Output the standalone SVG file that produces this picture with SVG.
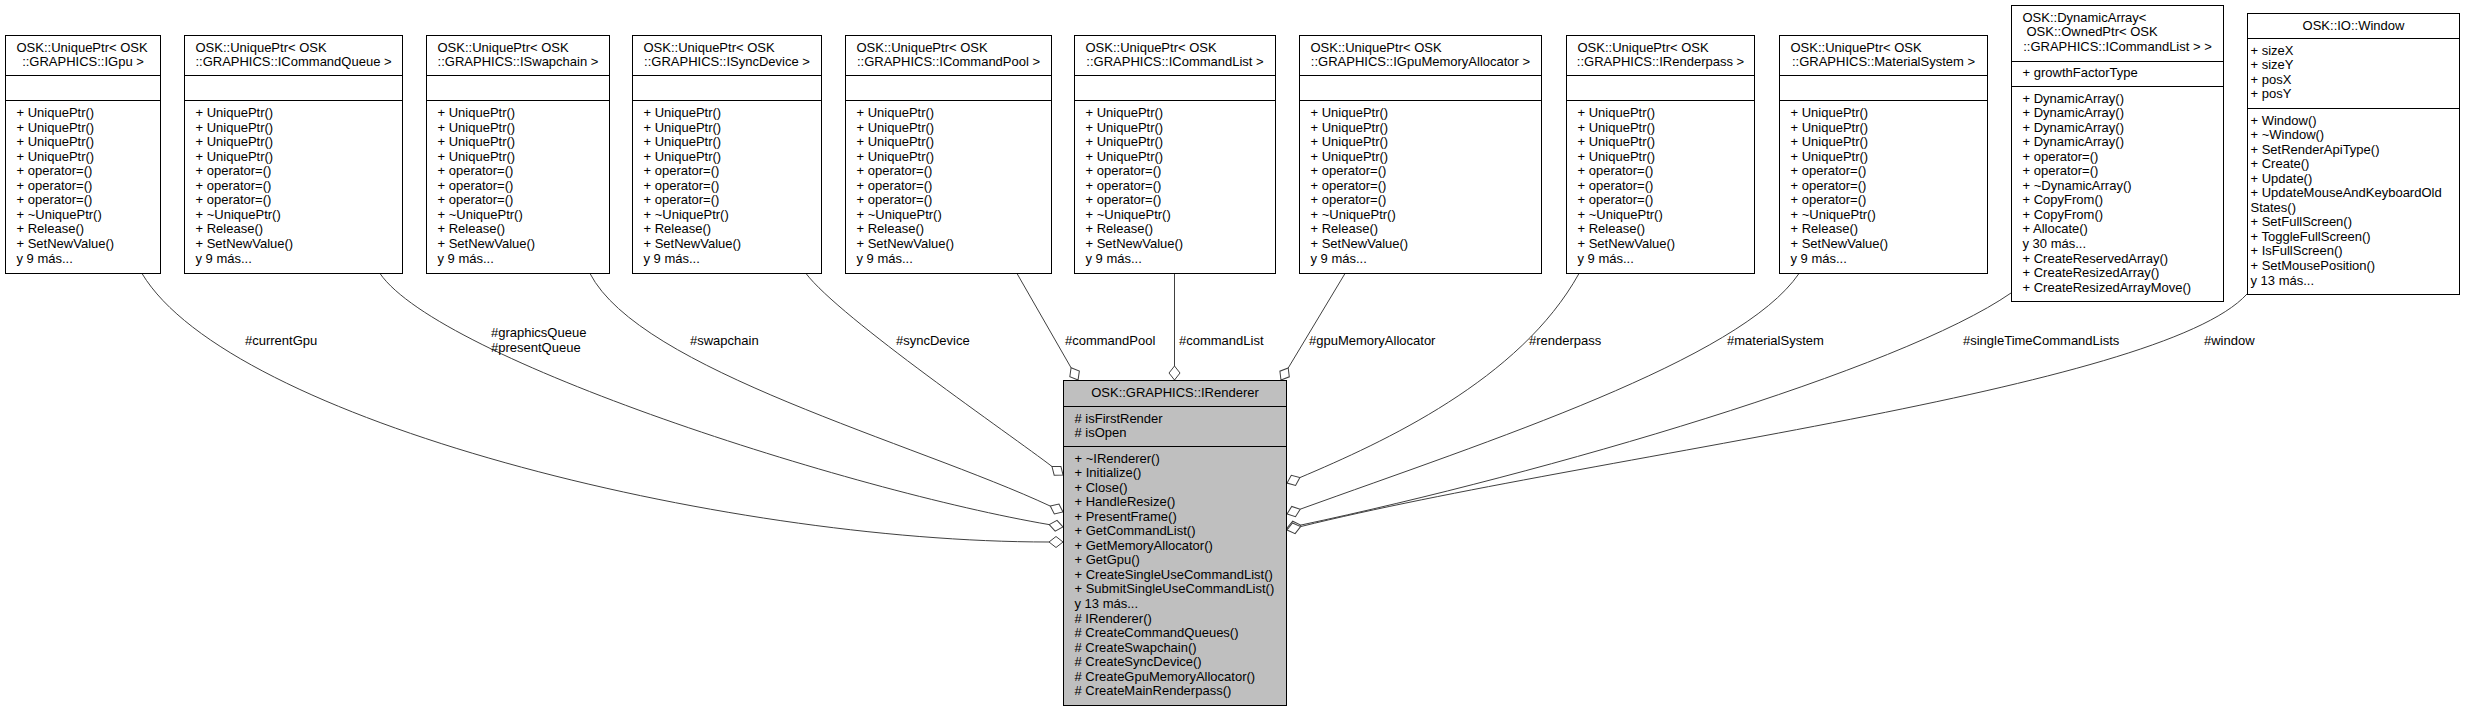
<svg xmlns="http://www.w3.org/2000/svg" width="2465" height="712" viewBox="0 0 2465 712">
<style>
text{font-family:"Liberation Sans",Arial,Helvetica,sans-serif;font-size:13px;fill:#000}
.box{fill:#fff;stroke:#000;stroke-width:1}
.cur{fill:#bfbfbf;stroke:#000;stroke-width:1}
.sep{fill:none;stroke:#000;stroke-width:1}
.edge{fill:none;stroke:#404040;stroke-width:1;marker-end:url(#odiamond)}
.mid{text-anchor:middle}
</style>
<defs>
<marker id="odiamond" markerUnits="userSpaceOnUse" markerWidth="16" markerHeight="14" refX="1" refY="7" orient="auto" viewBox="0 0 16 14" overflow="visible">
<path d="M1,7 L8,1.5 L15,7 L8,12.5 Z" fill="#fff" stroke="#404040" stroke-width="1"/>
</marker>
</defs>
<rect width="2465" height="712" fill="#fff"/>

<g id="connectors">
<path class="edge" d="M142,273.5 C230,420 720,542 1049,542"/>
<path class="edge" d="M380,273.5 C440,360 852,491 1049.2,524.6"/>
<path class="edge" d="M590,273.5 C640,370 914.4,442.6 1050.3,506.1"/>
<path class="edge" d="M806,273.5 C840,318 1012.5,436 1052,466.5"/>
<path class="edge" d="M1017,273.5 L1071.1,367.8"/>
<path class="edge" d="M1174.5,273.5 L1174.5,366"/>
<path class="edge" d="M1345,273.5 L1288.2,368"/>
<path class="edge" d="M1579,273.5 C1520,380 1382.7,442.5 1299.9,477.6"/>
<path class="edge" d="M1799,273.5 C1740,360 1488.2,441.2 1300.2,509.2"/>
<path class="edge" d="M2011,293 C1900,370 1545,473.1 1300.7,525.1"/>
<path class="edge" d="M2247,294 C2160,390 1591.6,454.6 1300.6,526.6"/>
<text x="245" y="345">#currentGpu</text>
<text x="491" y="337">#graphicsQueue</text>
<text x="491" y="352">#presentQueue</text>
<text x="690" y="345">#swapchain</text>
<text x="896" y="345">#syncDevice</text>
<text x="1065" y="345">#commandPool</text>
<text x="1179" y="345">#commandList</text>
<text x="1309" y="345">#gpuMemoryAllocator</text>
<text x="1529" y="345">#renderpass</text>
<text x="1727" y="345">#materialSystem</text>
<text x="1963" y="345">#singleTimeCommandLists</text>
<text x="2204" y="345">#window</text>
</g>

<g id="n1">
<rect class="box" x="5.5" y="35.5" width="155" height="238"/>
<path class="sep" d="M5.5,75.5H160.5M5.5,100.5H160.5"/>
<text x="16.5" y="51.5">OSK::UniquePtr&lt; OSK</text>
<text class="mid" x="83" y="66">::GRAPHICS::IGpu &gt;</text>
<text y="117"><tspan x="16.5">+ UniquePtr()</tspan><tspan x="16.5" dy="14.55">+ UniquePtr()</tspan><tspan x="16.5" dy="14.55">+ UniquePtr()</tspan><tspan x="16.5" dy="14.55">+ UniquePtr()</tspan><tspan x="16.5" dy="14.55">+ operator=()</tspan><tspan x="16.5" dy="14.55">+ operator=()</tspan><tspan x="16.5" dy="14.55">+ operator=()</tspan><tspan x="16.5" dy="14.55">+ ~UniquePtr()</tspan><tspan x="16.5" dy="14.55">+ Release()</tspan><tspan x="16.5" dy="14.55">+ SetNewValue()</tspan><tspan x="16.5" dy="14.55">y 9 más...</tspan></text>
</g>

<g id="n2">
<rect class="box" x="184.5" y="35.5" width="218" height="238"/>
<path class="sep" d="M184.5,75.5H402.5M184.5,100.5H402.5"/>
<text x="195.5" y="51.5">OSK::UniquePtr&lt; OSK</text>
<text class="mid" x="293.5" y="66">::GRAPHICS::ICommandQueue &gt;</text>
<text y="117"><tspan x="195.5">+ UniquePtr()</tspan><tspan x="195.5" dy="14.55">+ UniquePtr()</tspan><tspan x="195.5" dy="14.55">+ UniquePtr()</tspan><tspan x="195.5" dy="14.55">+ UniquePtr()</tspan><tspan x="195.5" dy="14.55">+ operator=()</tspan><tspan x="195.5" dy="14.55">+ operator=()</tspan><tspan x="195.5" dy="14.55">+ operator=()</tspan><tspan x="195.5" dy="14.55">+ ~UniquePtr()</tspan><tspan x="195.5" dy="14.55">+ Release()</tspan><tspan x="195.5" dy="14.55">+ SetNewValue()</tspan><tspan x="195.5" dy="14.55">y 9 más...</tspan></text>
</g>

<g id="n3">
<rect class="box" x="426.5" y="35.5" width="183" height="238"/>
<path class="sep" d="M426.5,75.5H609.5M426.5,100.5H609.5"/>
<text x="437.5" y="51.5">OSK::UniquePtr&lt; OSK</text>
<text class="mid" x="518" y="66">::GRAPHICS::ISwapchain &gt;</text>
<text y="117"><tspan x="437.5">+ UniquePtr()</tspan><tspan x="437.5" dy="14.55">+ UniquePtr()</tspan><tspan x="437.5" dy="14.55">+ UniquePtr()</tspan><tspan x="437.5" dy="14.55">+ UniquePtr()</tspan><tspan x="437.5" dy="14.55">+ operator=()</tspan><tspan x="437.5" dy="14.55">+ operator=()</tspan><tspan x="437.5" dy="14.55">+ operator=()</tspan><tspan x="437.5" dy="14.55">+ ~UniquePtr()</tspan><tspan x="437.5" dy="14.55">+ Release()</tspan><tspan x="437.5" dy="14.55">+ SetNewValue()</tspan><tspan x="437.5" dy="14.55">y 9 más...</tspan></text>
</g>

<g id="n4">
<rect class="box" x="632.5" y="35.5" width="189" height="238"/>
<path class="sep" d="M632.5,75.5H821.5M632.5,100.5H821.5"/>
<text x="643.5" y="51.5">OSK::UniquePtr&lt; OSK</text>
<text class="mid" x="727" y="66">::GRAPHICS::ISyncDevice &gt;</text>
<text y="117"><tspan x="643.5">+ UniquePtr()</tspan><tspan x="643.5" dy="14.55">+ UniquePtr()</tspan><tspan x="643.5" dy="14.55">+ UniquePtr()</tspan><tspan x="643.5" dy="14.55">+ UniquePtr()</tspan><tspan x="643.5" dy="14.55">+ operator=()</tspan><tspan x="643.5" dy="14.55">+ operator=()</tspan><tspan x="643.5" dy="14.55">+ operator=()</tspan><tspan x="643.5" dy="14.55">+ ~UniquePtr()</tspan><tspan x="643.5" dy="14.55">+ Release()</tspan><tspan x="643.5" dy="14.55">+ SetNewValue()</tspan><tspan x="643.5" dy="14.55">y 9 más...</tspan></text>
</g>

<g id="n5">
<rect class="box" x="845.5" y="35.5" width="206" height="238"/>
<path class="sep" d="M845.5,75.5H1051.5M845.5,100.5H1051.5"/>
<text x="856.5" y="51.5">OSK::UniquePtr&lt; OSK</text>
<text class="mid" x="948.5" y="66">::GRAPHICS::ICommandPool &gt;</text>
<text y="117"><tspan x="856.5">+ UniquePtr()</tspan><tspan x="856.5" dy="14.55">+ UniquePtr()</tspan><tspan x="856.5" dy="14.55">+ UniquePtr()</tspan><tspan x="856.5" dy="14.55">+ UniquePtr()</tspan><tspan x="856.5" dy="14.55">+ operator=()</tspan><tspan x="856.5" dy="14.55">+ operator=()</tspan><tspan x="856.5" dy="14.55">+ operator=()</tspan><tspan x="856.5" dy="14.55">+ ~UniquePtr()</tspan><tspan x="856.5" dy="14.55">+ Release()</tspan><tspan x="856.5" dy="14.55">+ SetNewValue()</tspan><tspan x="856.5" dy="14.55">y 9 más...</tspan></text>
</g>

<g id="n6">
<rect class="box" x="1074.5" y="35.5" width="201" height="238"/>
<path class="sep" d="M1074.5,75.5H1275.5M1074.5,100.5H1275.5"/>
<text x="1085.5" y="51.5">OSK::UniquePtr&lt; OSK</text>
<text class="mid" x="1175" y="66">::GRAPHICS::ICommandList &gt;</text>
<text y="117"><tspan x="1085.5">+ UniquePtr()</tspan><tspan x="1085.5" dy="14.55">+ UniquePtr()</tspan><tspan x="1085.5" dy="14.55">+ UniquePtr()</tspan><tspan x="1085.5" dy="14.55">+ UniquePtr()</tspan><tspan x="1085.5" dy="14.55">+ operator=()</tspan><tspan x="1085.5" dy="14.55">+ operator=()</tspan><tspan x="1085.5" dy="14.55">+ operator=()</tspan><tspan x="1085.5" dy="14.55">+ ~UniquePtr()</tspan><tspan x="1085.5" dy="14.55">+ Release()</tspan><tspan x="1085.5" dy="14.55">+ SetNewValue()</tspan><tspan x="1085.5" dy="14.55">y 9 más...</tspan></text>
</g>

<g id="n7">
<rect class="box" x="1299.5" y="35.5" width="242" height="238"/>
<path class="sep" d="M1299.5,75.5H1541.5M1299.5,100.5H1541.5"/>
<text x="1310.5" y="51.5">OSK::UniquePtr&lt; OSK</text>
<text class="mid" x="1420.5" y="66">::GRAPHICS::IGpuMemoryAllocator &gt;</text>
<text y="117"><tspan x="1310.5">+ UniquePtr()</tspan><tspan x="1310.5" dy="14.55">+ UniquePtr()</tspan><tspan x="1310.5" dy="14.55">+ UniquePtr()</tspan><tspan x="1310.5" dy="14.55">+ UniquePtr()</tspan><tspan x="1310.5" dy="14.55">+ operator=()</tspan><tspan x="1310.5" dy="14.55">+ operator=()</tspan><tspan x="1310.5" dy="14.55">+ operator=()</tspan><tspan x="1310.5" dy="14.55">+ ~UniquePtr()</tspan><tspan x="1310.5" dy="14.55">+ Release()</tspan><tspan x="1310.5" dy="14.55">+ SetNewValue()</tspan><tspan x="1310.5" dy="14.55">y 9 más...</tspan></text>
</g>

<g id="n8">
<rect class="box" x="1566.5" y="35.5" width="188" height="238"/>
<path class="sep" d="M1566.5,75.5H1754.5M1566.5,100.5H1754.5"/>
<text x="1577.5" y="51.5">OSK::UniquePtr&lt; OSK</text>
<text class="mid" x="1660.5" y="66">::GRAPHICS::IRenderpass &gt;</text>
<text y="117"><tspan x="1577.5">+ UniquePtr()</tspan><tspan x="1577.5" dy="14.55">+ UniquePtr()</tspan><tspan x="1577.5" dy="14.55">+ UniquePtr()</tspan><tspan x="1577.5" dy="14.55">+ UniquePtr()</tspan><tspan x="1577.5" dy="14.55">+ operator=()</tspan><tspan x="1577.5" dy="14.55">+ operator=()</tspan><tspan x="1577.5" dy="14.55">+ operator=()</tspan><tspan x="1577.5" dy="14.55">+ ~UniquePtr()</tspan><tspan x="1577.5" dy="14.55">+ Release()</tspan><tspan x="1577.5" dy="14.55">+ SetNewValue()</tspan><tspan x="1577.5" dy="14.55">y 9 más...</tspan></text>
</g>

<g id="n9">
<rect class="box" x="1779.5" y="35.5" width="208" height="238"/>
<path class="sep" d="M1779.5,75.5H1987.5M1779.5,100.5H1987.5"/>
<text x="1790.5" y="51.5">OSK::UniquePtr&lt; OSK</text>
<text class="mid" x="1883.5" y="66">::GRAPHICS::MaterialSystem &gt;</text>
<text y="117"><tspan x="1790.5">+ UniquePtr()</tspan><tspan x="1790.5" dy="14.55">+ UniquePtr()</tspan><tspan x="1790.5" dy="14.55">+ UniquePtr()</tspan><tspan x="1790.5" dy="14.55">+ UniquePtr()</tspan><tspan x="1790.5" dy="14.55">+ operator=()</tspan><tspan x="1790.5" dy="14.55">+ operator=()</tspan><tspan x="1790.5" dy="14.55">+ operator=()</tspan><tspan x="1790.5" dy="14.55">+ ~UniquePtr()</tspan><tspan x="1790.5" dy="14.55">+ Release()</tspan><tspan x="1790.5" dy="14.55">+ SetNewValue()</tspan><tspan x="1790.5" dy="14.55">y 9 más...</tspan></text>
</g>

<g id="n10">
<rect class="box" x="2011.5" y="5.5" width="212" height="296"/>
<path class="sep" d="M2011.5,61.5H2223.5M2011.5,86.5H2223.5"/>
<text x="2022.5" y="21.5">OSK::DynamicArray&lt;</text>
<text x="2026.5" y="36">OSK::OwnedPtr&lt; OSK</text>
<text class="mid" x="2117.5" y="50.5">::GRAPHICS::ICommandList &gt; &gt;</text>
<text x="2022.5" y="77">+ growthFactorType</text>
<text y="102.5"><tspan x="2022.5">+ DynamicArray()</tspan><tspan x="2022.5" dy="14.55">+ DynamicArray()</tspan><tspan x="2022.5" dy="14.55">+ DynamicArray()</tspan><tspan x="2022.5" dy="14.55">+ DynamicArray()</tspan><tspan x="2022.5" dy="14.55">+ operator=()</tspan><tspan x="2022.5" dy="14.55">+ operator=()</tspan><tspan x="2022.5" dy="14.55">+ ~DynamicArray()</tspan><tspan x="2022.5" dy="14.55">+ CopyFrom()</tspan><tspan x="2022.5" dy="14.55">+ CopyFrom()</tspan><tspan x="2022.5" dy="14.55">+ Allocate()</tspan><tspan x="2022.5" dy="14.55">y 30 más...</tspan><tspan x="2022.5" dy="14.55">+ CreateReservedArray()</tspan><tspan x="2022.5" dy="14.55">+ CreateResizedArray()</tspan><tspan x="2022.5" dy="14.55">+ CreateResizedArrayMove()</tspan></text>
</g>

<g id="n11">
<rect class="box" x="2247.5" y="13.5" width="212" height="281"/>
<path class="sep" d="M2247.5,38.5H2459.5M2247.5,108.5H2459.5"/>
<text class="mid" x="2353.5" y="30">OSK::IO::Window</text>
<text y="54.5"><tspan x="2250.5">+ sizeX</tspan><tspan x="2250.5" dy="14.55">+ sizeY</tspan><tspan x="2250.5" dy="14.55">+ posX</tspan><tspan x="2250.5" dy="14.55">+ posY</tspan></text>
<text y="124.5"><tspan x="2250.5">+ Window()</tspan><tspan x="2250.5" dy="14.55">+ ~Window()</tspan><tspan x="2250.5" dy="14.55">+ SetRenderApiType()</tspan><tspan x="2250.5" dy="14.55">+ Create()</tspan><tspan x="2250.5" dy="14.55">+ Update()</tspan><tspan x="2250.5" dy="14.55">+ UpdateMouseAndKeyboardOld</tspan><tspan x="2250.5" dy="14.55">States()</tspan><tspan x="2250.5" dy="14.55">+ SetFullScreen()</tspan><tspan x="2250.5" dy="14.55">+ ToggleFullScreen()</tspan><tspan x="2250.5" dy="14.55">+ IsFullScreen()</tspan><tspan x="2250.5" dy="14.55">+ SetMousePosition()</tspan><tspan x="2250.5" dy="14.55">y 13 más...</tspan></text>
</g>

<g id="irenderer">
<rect class="cur" x="1063.5" y="380.5" width="223" height="325"/>
<path class="sep" d="M1063.5,406.5H1286.5M1063.5,446.5H1286.5"/>
<text class="mid" x="1175" y="396.5">OSK::GRAPHICS::IRenderer</text>
<text y="422.5"><tspan x="1074.5"># isFirstRender</tspan><tspan x="1074.5" dy="14.55"># isOpen</tspan></text>
<text y="462.5"><tspan x="1074.5">+ ~IRenderer()</tspan><tspan x="1074.5" dy="14.55">+ Initialize()</tspan><tspan x="1074.5" dy="14.55">+ Close()</tspan><tspan x="1074.5" dy="14.55">+ HandleResize()</tspan><tspan x="1074.5" dy="14.55">+ PresentFrame()</tspan><tspan x="1074.5" dy="14.55">+ GetCommandList()</tspan><tspan x="1074.5" dy="14.55">+ GetMemoryAllocator()</tspan><tspan x="1074.5" dy="14.55">+ GetGpu()</tspan><tspan x="1074.5" dy="14.55">+ CreateSingleUseCommandList()</tspan><tspan x="1074.5" dy="14.55">+ SubmitSingleUseCommandList()</tspan><tspan x="1074.5" dy="14.55">y 13 más...</tspan><tspan x="1074.5" dy="14.55"># IRenderer()</tspan><tspan x="1074.5" dy="14.55"># CreateCommandQueues()</tspan><tspan x="1074.5" dy="14.55"># CreateSwapchain()</tspan><tspan x="1074.5" dy="14.55"># CreateSyncDevice()</tspan><tspan x="1074.5" dy="14.55"># CreateGpuMemoryAllocator()</tspan><tspan x="1074.5" dy="14.55"># CreateMainRenderpass()</tspan></text>
</g>
</svg>
